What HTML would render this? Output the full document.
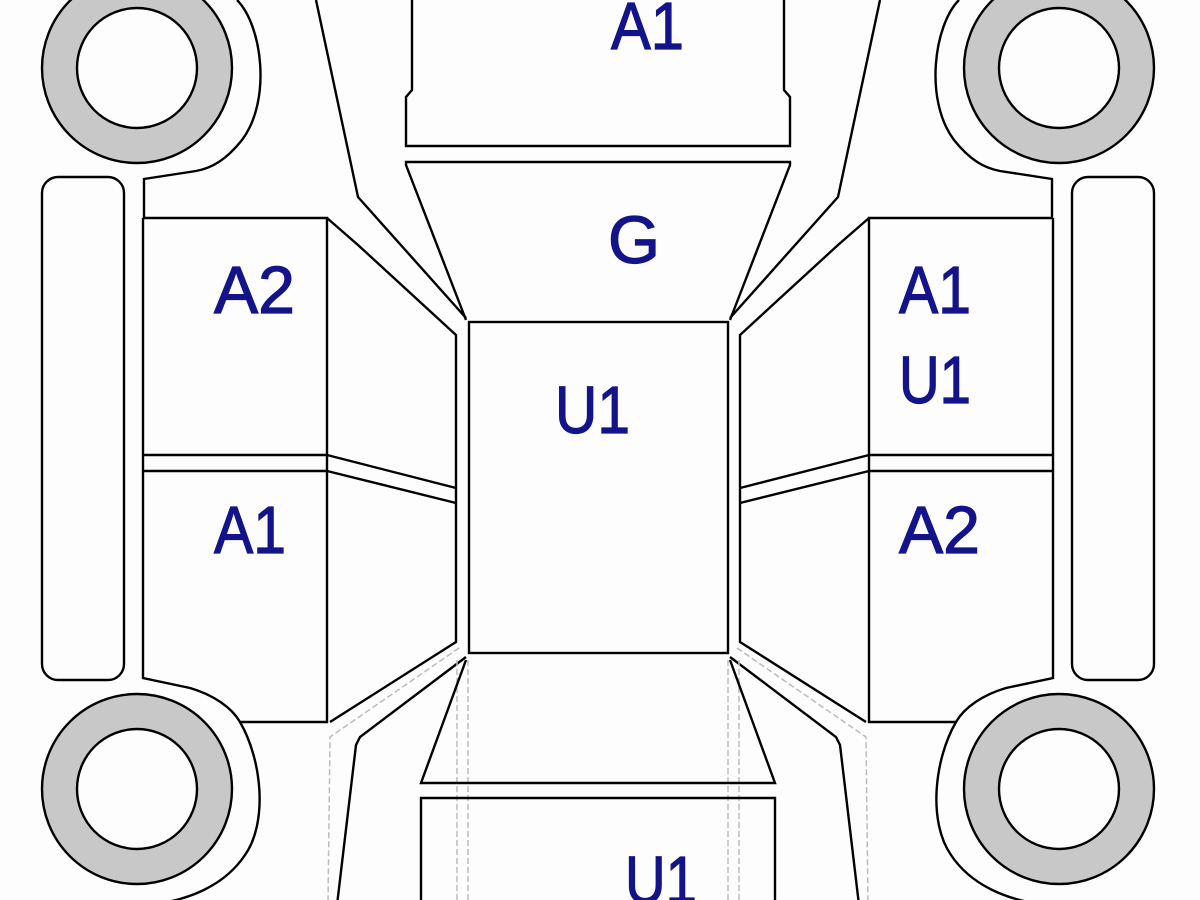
<!DOCTYPE html>
<html><head><meta charset="utf-8"><style>
html,body{margin:0;padding:0;background:#fdfdfd;}
svg{display:block;}
text{font-family:"Liberation Sans",Arial,sans-serif;font-size:67px;fill:#14148a;stroke:#14148a;stroke-width:1.2px;}
</style></head><body>
<svg width="1200" height="900" viewBox="0 0 1200 900" xmlns="http://www.w3.org/2000/svg">
<rect width="1200" height="900" fill="#fdfdfd"/>
<defs>
<g id="half" fill="none" stroke="#000" stroke-width="2.4">
  <circle cx="137" cy="68" r="77" stroke="#c8c8c8" stroke-width="35"/>
  <circle cx="137" cy="68" r="95"/>
  <circle cx="137" cy="68" r="60"/>
  <circle cx="137" cy="789" r="77" stroke="#c8c8c8" stroke-width="35"/>
  <circle cx="137" cy="789" r="95"/>
  <circle cx="137" cy="789" r="60"/>
  <rect x="42" y="177" width="82" height="503" rx="16"/>
  <path d="M237 0 C262 25 272 100 242 140 C226 160 212 168 196 171 L144 179 L144 218"/>
  <path d="M143 218 L143 678 L190 688 C214 695 232 708 240 722 C262 760 268 822 245 855 C225 885 190 900 150 905"/>
  <path d="M143 218 L327 218 L327 722 L240 722"/>
  <path d="M143 455 L327 455 M143 471 L327 471"/>
  <path d="M327 455 L456 488 M327 471 L456 503"/>
  <path d="M316 0 L358 197 L466 318"/>
  <path d="M327 218 L358 245 L456 335 L456 642 L330 722"/>
  <path d="M466 657 L360 737 L356 745 L337 905"/>
  <path d="M459 648 L330 737 L328 905 M457 660 L457 905 M468 660 L468 905" stroke="#bbb" stroke-width="1.5" stroke-dasharray="6 3"/>
</g>
</defs>
<use href="#half"/>
<use href="#half" transform="translate(1196,0) scale(-1,1)"/>
<g fill="none" stroke="#000" stroke-width="2.4">
  <rect x="469" y="322" width="259" height="331"/>
  <path d="M412 0 L412 90 L406 97 L406 146 L790 146 L790 97 L784 90 L784 0"/>
  <path d="M466 320 L406 165 L406 162 L790 162 L790 165 L730 320"/>
  <path d="M466 660 L421 783 L775 783 L730 660"/>
  <path d="M421 905 L421 798 L775 798 L775 905"/>
</g>
<text x="611" y="49" textLength="73" lengthAdjust="spacingAndGlyphs">A1</text>
<text x="608" y="263" textLength="52" lengthAdjust="spacingAndGlyphs">G</text>
<text x="555" y="433" textLength="75" lengthAdjust="spacingAndGlyphs">U1</text>
<text x="214" y="313" textLength="81" lengthAdjust="spacingAndGlyphs">A2</text>
<text x="214" y="553" textLength="72" lengthAdjust="spacingAndGlyphs">A1</text>
<text x="899" y="313" textLength="72" lengthAdjust="spacingAndGlyphs">A1</text>
<text x="899" y="403" textLength="72" lengthAdjust="spacingAndGlyphs">U1</text>
<text x="899" y="553" textLength="81" lengthAdjust="spacingAndGlyphs">A2</text>
<text x="625" y="903" textLength="72" lengthAdjust="spacingAndGlyphs">U1</text>
</svg>
</body></html>
